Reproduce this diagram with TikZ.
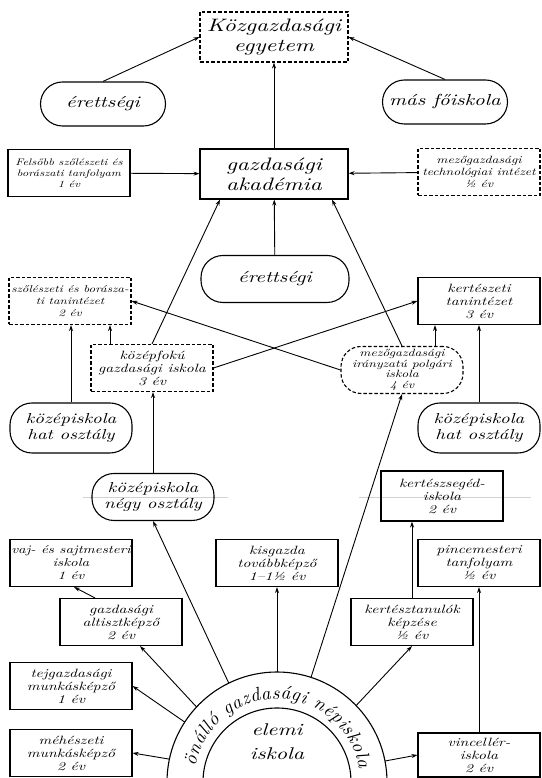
\documentclass[tikz,border=0pt]{standalone}
\usepackage{fontspec}
\setmainfont{lmroman10}[Extension=.otf, UprightFont=*-regular, ItalicFont=*-italic, BoldFont=*-bold, BoldItalicFont=*-bolditalic, FakeStretch=1.3]
\newfontfamily\arcfont{lmroman10}[Extension=.otf, UprightFont=*-italic]
\usepackage{tikz}
\usetikzlibrary{arrows.meta,calc,decorations.text}
\begin{document}
\begin{tikzpicture}[x=1pt,y=1pt]
	\path [use as bounding box] (0,0) rectangle (541,778);
	\tikzstyle{every node} = [align=center, inner sep=1pt]
	\tikzstyle{box} = [draw, line width=1.1pt, minimum width=122pt, minimum height=47pt, font=\fontsize{12}{13}\selectfont\itshape]
	\tikzstyle{dsh} = [dash pattern=on 3.5pt off 2pt]
	\tikzstyle{big} = [box, minimum width=148pt, minimum height=50pt, font=\fontsize{18}{20}\selectfont\itshape]
	\tikzstyle{oval} = [box, rounded corners=22pt, font=\fontsize{14.5}{16}\selectfont\itshape]
	\tikzstyle{arr} = [line width=0.9pt, -{Stealth[length=6pt,width=4pt]}]
	\draw[gray!35, line width=0.4pt] (83,281) -- (228,281);
	\draw[gray!35, line width=0.4pt] (359,281) -- (531,281);
	\node[big, dsh] (K) at (274,741) {Közgazdasági\\egyetem};
	\node[big, rounded corners=22pt, minimum width=125pt, minimum height=44pt, font=\fontsize{16}{18}\selectfont\itshape] (E1) at (103,674) {érettségi};
	\node[big, rounded corners=22pt, minimum width=125pt, minimum height=44pt, font=\fontsize{16}{18}\selectfont\itshape] (M) at (445,676) {más főiskola};
	\node[box, font=\fontsize{9.5}{11}\selectfont\itshape] (F) at (69,605) {Felsőbb szőlészeti és\\borászati tanfolyam\\1 év};
	\node[big] (G) at (274,604) {gazdasági\\akadémia};
	\node[box, dsh, font=\fontsize{10.5}{12}\selectfont\itshape] (T) at (479,606) {mezőgazdasági\\technológiai intézet\\½ év};
	\node[big, rounded corners=22pt, minimum height=47pt, font=\fontsize{16}{18}\selectfont\itshape] (E2) at (275,499) {érettségi};
	\node[box, dsh, font=\fontsize{10}{12}\selectfont\itshape] (S) at (70,477) {szőlészeti és borásza-\\ti tanintézet\\2 év};
	\node[box] (KT) at (479,477) {kertészeti\\tanintézet\\3 év};
	\node[box, dsh] (KF) at (152,410) {középfokú\\gazdasági iskola\\3 év};
	\node[box, dsh, rounded corners=20pt, font=\fontsize{10.5}{10.5}\selectfont\itshape] (P) at (402,408) {mezőgazdasági\\irányzatú polgári\\iskola\\4 év};
	\node[oval, minimum height=50pt] (H1) at (71,350) {középiskola\\hat osztály};
	\node[oval, minimum height=50pt] (H2) at (479,350) {középiskola\\hat osztály};
	\node[oval] (N) at (153,281) {középiskola\\négy osztály};
	\node[box, minimum height=50pt] (KS) at (442,282) {kertészsegéd-\\iskola\\2 év};
	\node[box, font=\fontsize{11.5}{13}\selectfont\itshape] (V) at (71,215) {vaj- és sajtmesteri\\iskola\\1 év};
	\node[box] (KG) at (277,215) {kisgazda\\továbbképző\\1--1½ év};
	\node[box] (PM) at (479,215) {pincemesteri\\tanfolyam\\½ év};
	\node[box] (A) at (121,156) {gazdasági\\altisztképző\\2 év};
	\node[box] (KTA) at (412,156) {kertésztanulók\\képzése\\½ év};
	\node[box] (TJ) at (71,92) {tejgazdasági\\munkásképző\\1 év};
	\node[box] (MH) at (71,25) {méhészeti\\munkásképző\\2 év};
	\node[box, minimum height=44pt] (VI) at (479,23) {vincellér-\\iskola\\2 év};
	\coordinate (O) at (277,-4);
	\draw[line width=1.1pt] ($(O)+(180:110)$) arc (180:0:110);
	\draw[line width=1.1pt] ($(O)+(180:74)$) arc (180:0:74);
	\path[decorate, decoration={text along path, text align=fit to path, text={|\fontsize{19}{19}\arcfont|önálló gazdasági népiskola}}] ($(O)+(169:83)$) arc (169:9:83);
	\node[font=\fontsize{17}{24}\selectfont\itshape] (EI) at (277,36) {elemi\\iskola};
	\draw[arr] (E1.north) -- (K.west);
	\draw[arr] (M.north) -- (K.east);
	\draw[arr] (G) -- (K);
	\draw[arr] (F) -- (G);
	\draw[arr] (T) -- (G);
	\draw[arr] (E2) -- (G);
	\draw[arr] (KF.north) -- ([xshift=-54pt]G.south);
	\draw[arr] (P.north) -- ([xshift=58pt]G.south);
	\draw[arr] (KF.east) -- (KT.west);
	\draw[arr] (P.west) -- (S.east);
	\draw[arr] (110,0 |- KF.north) -- (110,0 |- S.south);
	\draw[arr] (435,0 |- P.north) -- (435,0 |- KT.south);
	\draw[arr] (H1.north) -- (H1.north |- S.south);
	\draw[arr] (H2.north) -- (H2.north |- KT.south);
	\draw[arr] (N.north) -- (N.north |- KF.south);
	\draw[arr] (KTA.north) -- (KTA.north |- KS.south);
	\draw[arr] (VI.north) -- (VI.north |- PM.south);
	\draw[arr] ([xshift=-26pt]A.north) -- ([xshift=3pt]V.south);
	\draw[arr] ($(O)+(137:110)$) -- ([xshift=19pt]A.south);
	\foreach \a/\t in {72/P.south, 116/N.south, 90/KG.south, 147/TJ.east, 168/MH.east, 44/KTA.south, 11/VI.west}
		\draw[arr] ($(O)+(\a:110)$) -- (\t);
\end{tikzpicture}
\end{document}
